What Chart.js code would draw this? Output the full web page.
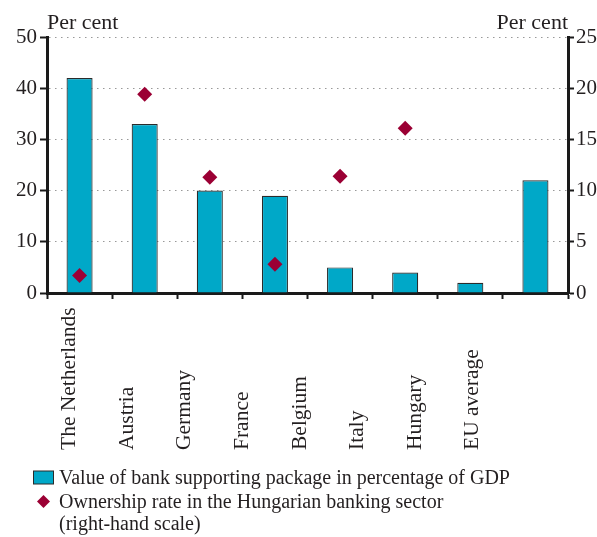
<!DOCTYPE html>
<html><head><meta charset="utf-8">
<script src="https://cdn.jsdelivr.net/npm/chart.js@4/dist/chart.umd.min.js"></script>
<style>html,body{margin:0;padding:0;background:#fff;}#wrap{position:relative;width:597px;height:537px;}</style>
</head><body><div id="wrap"><canvas id="c" width="597" height="537"></canvas></div>
<script>
const categories = ['The Netherlands', 'Austria', 'Germany', 'France', 'Belgium', 'Italy', 'Hungary', 'EU average'];
const packageValues = [42, 33, 20, 19, 5, 4, 2, 22];
const ownershipValues = [1.7, 19.4, 11.3, 2.8, 11.4, 16.1, null, null];
const axisUnitLabel = 'Per cent';
const legendLabels = ['Value of bank supporting package in percentage of GDP', 'Ownership rate in the Hungarian banking sector', '(right-hand scale)'];

const FONT = "'Liberation Serif', 'Times New Roman', serif";
const TEXT = '#231f20';
const BAR = '#00a8c8';
const DIAMOND = '#9b0034';
const AXIS = '#1a1a1a';

const textPlugin = {
  id: 'textPlugin',
  afterDraw(chart) {
    const ctx = chart.ctx, a = chart.chartArea, xs = chart.scales.x;
    ctx.save();
    ctx.fillStyle = TEXT;
    ctx.textBaseline = 'alphabetic';
    ctx.font = '22px ' + FONT;
    ctx.textAlign = 'left';
    ctx.fillText(axisUnitLabel, a.left, 29);
    ctx.textAlign = 'right';
    ctx.fillText(axisUnitLabel, a.right, 29);

    // category labels (rotated, reading upwards)
    ctx.font = '21.5px ' + FONT;
    const step = (xs.width / categories.length) * 0.885;
    categories.forEach((c, i) => {
      const bx = a.left + 28 + i * step;
      ctx.save();
      ctx.translate(bx, 450);
      ctx.rotate(-Math.PI / 2);
      ctx.textAlign = 'left';
      ctx.fillText(c, 0, 0);
      ctx.restore();
    });

    // legend
    ctx.font = '20px ' + FONT;
    ctx.textAlign = 'left';
    ctx.fillStyle = BAR;
    ctx.fillRect(33.5, 471, 20, 13);
    ctx.strokeStyle = '#2b2b2b';
    ctx.lineWidth = 1;
    ctx.strokeRect(33.5, 471, 20, 13);
    ctx.fillStyle = DIAMOND;
    ctx.beginPath();
    ctx.moveTo(43.5, 495); ctx.lineTo(50, 501.5); ctx.lineTo(43.5, 508); ctx.lineTo(37, 501.5);
    ctx.closePath(); ctx.fill();
    ctx.fillStyle = TEXT;
    ctx.fillText(legendLabels[0], 59, 484);
    ctx.fillText(legendLabels[1], 59, 508);
    ctx.fillText(legendLabels[2], 59, 530);
    ctx.restore();
  }
};

new Chart(document.getElementById('c'), {
  data: {
    labels: categories,
    datasets: [
      { type: 'bar', label: legendLabels[0], data: packageValues, yAxisID: 'y',
        backgroundColor: BAR, borderColor: '#2b2b2b', borderWidth: 1.2,
        barPercentage: 0.4, categoryPercentage: 1, order: 2 },
      { type: 'line', label: legendLabels[1], data: ownershipValues, yAxisID: 'y1',
        showLine: false, pointStyle: 'rectRot', pointRadius: 7.5, pointHoverRadius: 7.5,
        pointBackgroundColor: DIAMOND, pointBorderColor: DIAMOND, pointBorderWidth: 0, order: 1 }
    ]
  },
  options: {
    responsive: false, animation: false, events: [],
    layout: { padding: { top: 37, left: 0, right: 0, bottom: 0 } },
    plugins: { legend: { display: false }, tooltip: { enabled: false } },
    scales: {
      x: {
        type: 'category', offset: true, z: 1,
        grid: { offset: true, drawOnChartArea: false, drawTicks: true, tickLength: 6, tickWidth: 2, tickColor: AXIS },
        border: { display: true, color: AXIS, width: 3 },
        ticks: { display: false },
        afterFit(s) { s.height = 244; }
      },
      y: {
        position: 'left', min: 0, max: 50,
        ticks: { stepSize: 10, padding: 3, color: TEXT, font: { family: FONT, size: 21 } },
        grid: { color: '#999999', lineWidth: 1, drawTicks: true, tickColor: AXIS, tickLength: 7, tickWidth: 2 },
        border: { color: AXIS, width: 3, dash: [1.5, 4.5] },
        afterFit(s) { s.width = 47; }
      },
      y1: {
        position: 'right', min: 0, max: 25,
        ticks: { stepSize: 5, padding: 2, color: TEXT, font: { family: FONT, size: 21 } },
        grid: { drawOnChartArea: false, drawTicks: true, tickColor: AXIS, tickLength: 6, tickWidth: 2 },
        border: { color: AXIS, width: 3 },
        afterFit(s) { s.width = 29; }
      }
    }
  },
  plugins: [textPlugin]
});
</script></body></html>
